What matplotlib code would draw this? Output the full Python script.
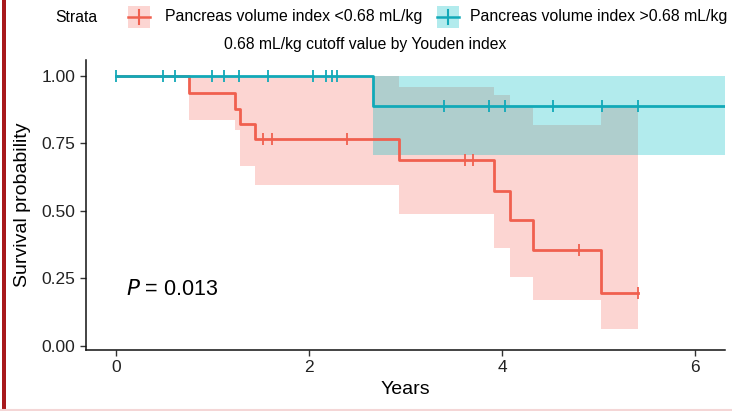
import matplotlib
matplotlib.use("Agg")
import matplotlib.pyplot as plt
from matplotlib.patches import Rectangle
from matplotlib.lines import Line2D

plt.rcParams['font.family'] = ['Liberation Sans', 'DejaVu Sans']

# ---- data ----
legend_title = "Strata"
group_labels = ["Pancreas volume index <0.68 mL/kg", "Pancreas volume index >0.68 mL/kg"]
subtitle = "0.68 mL/kg cutoff value by Youden index"

low_time = [0, 0.76, 1.23, 1.29, 1.44, 2.93, 3.92, 4.08, 4.32, 5.03]
low_surv = [1.0, 0.937, 0.878, 0.822, 0.765, 0.689, 0.574, 0.467, 0.356, 0.196]
low_lower = [1.0, 0.837, 0.80, 0.667, 0.596, 0.49, 0.363, 0.256, 0.17, 0.063]
low_upper = [1.0, 1.0, 1.0, 1.0, 1.0, 0.96, 0.93, 0.885, 0.82, 0.885]
low_end = 5.41
low_censor = [1.52, 1.62, 2.39, 3.62, 3.70, 4.80, 5.41]

high_time = [0, 2.66]
high_surv = [1.0, 0.889]
high_lower = [1.0, 0.707]
high_upper = [1.0, 1.0]
high_end = 6.31
high_censor = [0, 0.49, 0.61, 1.0, 1.12, 1.28, 1.58, 2.04, 2.18, 2.24, 2.29,
               3.40, 3.87, 4.03, 4.53, 5.04, 5.41]

x_ticks = [0, 2, 4, 6]
y_ticks = [0.0, 0.25, 0.5, 0.75, 1.0]
y_ticklabels = ["0.00", "0.25", "0.50", "0.75", "1.00"]
p_text = "0.013"

red = "#F0604F"
red_fill = "#F8766D"
cyan = "#12A9B8"
cyan_fill = "#00BFC4"

fig = plt.figure(figsize=(7.32, 4.11), dpi=100)
ax = fig.add_axes([86/732, 1-350/411, (725-86)/732, (350-60)/411])


def extend(t, v, end):
    return list(t) + [end], list(v) + [v[-1]]


def surv_at(times, survs, x):
    s = survs[0]
    for t, v in zip(times, survs):
        if x >= t:
            s = v
    return s


for times, lo, up, end, cf in [
        (low_time, low_lower, low_upper, low_end, red_fill),
        (high_time, high_lower, high_upper, high_end, cyan_fill)]:
    tt, ll = extend(times, lo, end)
    _, uu = extend(times, up, end)
    ax.fill_between(tt, ll, uu, step='post', color=cf, alpha=0.3, linewidth=0)

for times, surv, end, cens, c in [
        (low_time, low_surv, low_end, low_censor, red),
        (high_time, high_surv, high_end, high_censor, cyan)]:
    tt, ss = extend(times, surv, end)
    ax.step(tt, ss, where='post', color=c, linewidth=2.0)
    ax.plot(cens, [surv_at(times, surv, x) for x in cens], linestyle='none',
            marker='|', markersize=8.5, markeredgewidth=1.3, color=c)

ax.set_xlim(-0.31, 6.31)
ax.set_ylim(-0.015, 1.059)
ax.set_xticks(x_ticks)
ax.set_yticks(y_ticks)
ax.set_yticklabels(y_ticklabels)
ax.tick_params(axis='both', labelsize=12.5, length=4, width=1, color='#333333', labelcolor='#222222')
for s in ['top', 'right']:
    ax.spines[s].set_visible(False)
for s in ['left', 'bottom']:
    ax.spines[s].set_linewidth(1.1)
    ax.spines[s].set_color('#111111')

ax.set_xlabel("Years", fontsize=14, labelpad=4)
ax.set_ylabel("Survival probability", fontsize=14, labelpad=8)

ax.text(0.1, 0.21, r"$P$ = " + p_text, fontsize=15.5, va='center', ha='left')

# legend
ly = 1 - 17/411
fig.text(55/732, ly, legend_title, fontsize=11.3, va='center', ha='left')
key_specs = [(128, 165, red, red_fill, group_labels[0]), (437, 470, cyan, cyan_fill, group_labels[1])]
for kx, tx, c, cf, lab in key_specs:
    w, h = 22/732, 22/411
    fig.patches.append(Rectangle((kx/732, ly - h/2), w, h, transform=fig.transFigure,
                                 facecolor=cf, alpha=0.3, edgecolor='none'))
    fig.lines.append(Line2D([kx/732, kx/732 + w], [ly, ly], transform=fig.transFigure,
                            color=c, linewidth=1.8))
    fig.lines.append(Line2D([kx/732 + w/2, kx/732 + w/2], [ly - h*0.3, ly + h*0.3],
                            transform=fig.transFigure, color=c, linewidth=1.5))
    fig.text(tx/732, ly, lab, fontsize=11.4, va='center', ha='left')

fig.text(365/732, 1 - 45/411, subtitle, fontsize=11.3, va='center', ha='center')

# decorative red frame on the left edge
fig.patches.append(Rectangle((2/732, 0), 3.5/732, 1, transform=fig.transFigure,
                             facecolor='#A8191C', edgecolor='none'))
fig.lines.append(Line2D([0, 1], [1.5/411, 1.5/411], transform=fig.transFigure,
                        color='#F4D6D6', linewidth=1.5))

fig.savefig("out.png", dpi=100)
